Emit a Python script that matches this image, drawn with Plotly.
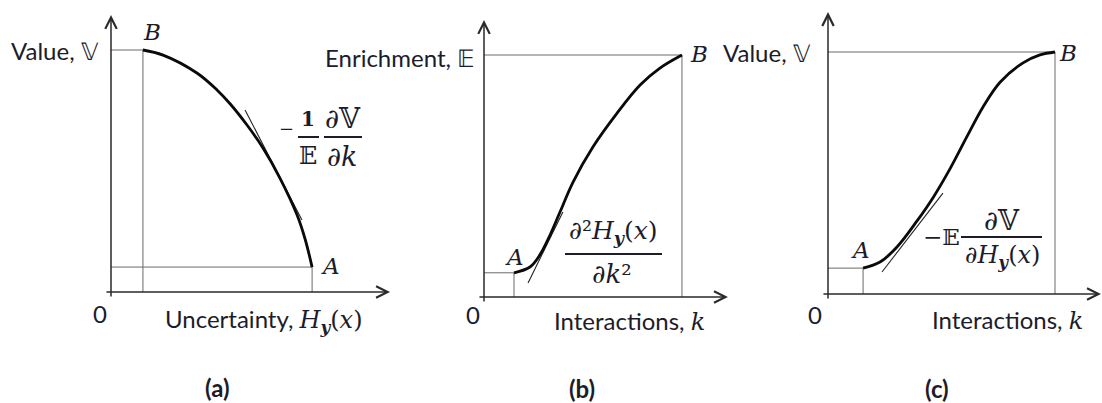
import plotly.graph_objects as go

W, H = 1102, 403
PX = 24.2  # pixels per data unit (same scale in every panel)

# ---- data -----------------------------------------------------------------
# (a) value V against uncertainty H_y(x): from B (top-left) down to A
a_h = [1.32, 2.15, 3.55, 4.38, 4.92, 5.62, 6.28, 6.98, 7.69, 8.02, 8.31]
a_v = [10.0, 9.79, 9.05, 8.35, 7.78, 6.90, 5.95, 4.71, 3.18, 2.19, 1.03]
a_tan_h = [5.54, 7.89]
a_tan_v = [7.52, 2.98]

# (b) enrichment E against interactions k: from A up to B
b_k = [1.24, 1.90, 2.31, 2.73, 3.14, 3.68, 4.50, 5.50, 6.45, 7.27, 8.18]
b_e = [1.00, 1.24, 1.74, 2.56, 3.51, 4.75, 6.20, 7.60, 8.76, 9.46, 10.0]
b_tan_k = [1.82, 3.26]
b_tan_e = [0.58, 3.51]

# (c) value V against interactions k: from A up to B
c_k = [1.45, 2.15, 2.85, 3.68, 4.34, 5.04, 5.74, 6.40, 7.11, 8.06, 8.76, 9.38]
c_v = [1.07, 1.32, 1.94, 3.02, 3.98, 5.17, 6.50, 7.72, 8.75, 9.55, 9.88, 10.0]
c_tan_k = [2.23, 4.75]
c_tan_v = [0.91, 4.17]

curves = [(a_h, a_v, a_tan_h, a_tan_v),
          (b_k, b_e, b_tan_k, b_tan_e),
          (c_k, c_v, c_tan_k, c_tan_v)]

# ---- panel geometry (origin pixel, horizontal extent, axis arrow lengths) --
panels = [
    dict(ox=111, oy=292, left=0, right=400, xend=11.53, yend=11.45),
    dict(ox=484, oy=297, left=400, right=740, xend=10.08, yend=11.45),
    dict(ox=828, oy=294, left=740, right=1102, xend=11.28, yend=11.65),
]

INK = "#1c1c2a"
GUIDE = "#6a6a6a"
SANS = "Lato, Open Sans, sans-serif"
SERIF = "DejaVu Serif, Liberation Serif, serif"

fig = go.Figure()
layout_axes = {}
annotations = []
shapes = []

for i, (p, (xs, ys, tx, ty)) in enumerate(zip(panels, curves), start=1):
    xa = "x" if i == 1 else f"x{i}"
    ya = "y" if i == 1 else f"y{i}"
    layout_axes["xaxis" if i == 1 else f"xaxis{i}"] = dict(
        domain=[p["left"] / W, p["right"] / W],
        range=[(p["left"] - p["ox"]) / PX, (p["right"] - p["ox"]) / PX],
        visible=False, fixedrange=True, anchor=ya)
    layout_axes["yaxis" if i == 1 else f"yaxis{i}"] = dict(
        domain=[0, 1],
        range=[(p["oy"] - H) / PX, p["oy"] / PX],
        visible=False, fixedrange=True, anchor=xa)

    # thin guide lines from the curve end points to both axes
    if ys[0] > ys[-1]:
        top = (xs[0], ys[0]); low = (xs[-1], ys[-1])
    else:
        top = (xs[-1], ys[-1]); low = (xs[0], ys[0])
    for gx, gy in (top, low):
        fig.add_trace(go.Scatter(
            x=[0, gx, gx], y=[gy, gy, 0], mode="lines",
            line=dict(color=GUIDE, width=1), xaxis=xa, yaxis=ya,
            hoverinfo="skip", showlegend=False))

    # tangent line
    fig.add_trace(go.Scatter(
        x=tx, y=ty, mode="lines", line=dict(color="#222222", width=1.1),
        xaxis=xa, yaxis=ya, hoverinfo="skip", showlegend=False))

    # main curve
    fig.add_trace(go.Scatter(
        x=xs, y=ys, mode="lines",
        line=dict(color="#0a0a0a", width=2.8, shape="spline", smoothing=1.0),
        xaxis=xa, yaxis=ya, hoverinfo="skip", showlegend=False))

    # axes with open arrow heads
    for (x0, y0, x1, y1) in ((-0.25, 0, p["xend"], 0), (0, -0.25, 0, p["yend"])):
        annotations.append(dict(
            x=x1, y=y1, ax=x0, ay=y0, xref=xa, yref=ya, axref=xa, ayref=ya,
            text="", showarrow=True, arrowhead=5, arrowsize=1.5,
            arrowwidth=1.5, arrowcolor="#2a2a2a", standoff=0, startstandoff=0))


def label(px, py, text, size=24, font=SANS, xanchor="center", bold=False):
    if bold:
        text = f"<b>{text}</b>"
    annotations.append(dict(
        x=px / W, y=1 - py / H, xref="paper", yref="paper", text=text,
        showarrow=False, xanchor=xanchor, yanchor="middle",
        font=dict(family=font, size=size, color=INK)))


def bar(x0, x1, py):
    shapes.append(dict(type="line", xref="paper", yref="paper",
                       x0=x0 / W, x1=x1 / W, y0=1 - py / H, y1=1 - py / H,
                       line=dict(color=INK, width=2)))


HY = "<i>H</i><sub><b><i>y</i></b></sub>(<i>x</i>)"
SERIF_SPAN = '<span style="font-family:DejaVu Serif">%s</span>'

# panel (a)
label(101, 50, "Value, 𝕍", xanchor="right")
label(152, 32, "<i>B</i>", size=23, font=SERIF)
label(330, 266, "<i>A</i>", size=23, font=SERIF)
label(100, 313, "0")
label(163, 320, "Uncertainty, " + SERIF_SPAN % HY, xanchor="left")
label(286, 128, "−", size=18, font=SERIF)
label(308, 119, "1", size=20, font=SERIF, bold=True)
bar(298, 319, 137)
label(308, 156, "𝔼", size=24, font=SERIF)
label(343, 118, "∂𝕍", size=27, font=SERIF)
bar(324, 362, 137)
label(342, 156, "∂<i>k</i>", size=27, font=SERIF)
label(217, 387, "(a)", bold=True)

# panel (b)
label(477, 57, "Enrichment, 𝔼", xanchor="right")
label(699, 54, "<i>B</i>", size=23, font=SERIF)
label(514, 257, "<i>A</i>", size=23, font=SERIF)
label(473, 314, "0")
label(552, 321, "Interactions, " + SERIF_SPAN % "<i>k</i>", xanchor="left")
label(613, 232, "∂²" + HY, size=25, font=SERIF)
bar(565, 662, 254)
label(612, 274, "∂<i>k</i>²", size=26, font=SERIF)
label(582, 388, "(b)", bold=True)

# panel (c)
label(1068, 53, "<i>B</i>", size=23, font=SERIF)
label(813, 52, "Value, 𝕍", xanchor="right")
label(860, 250, "<i>A</i>", size=23, font=SERIF)
label(815, 314, "0")
label(930, 320, "Interactions, " + SERIF_SPAN % "<i>k</i>", xanchor="left")
label(941, 237, "−𝔼", size=23, font=SERIF)
label(1002, 220, "∂𝕍", size=27, font=SERIF)
bar(961, 1042, 237)
label(1002, 256, "∂" + HY, size=24, font=SERIF)
label(937, 388, "(c)", bold=True)

fig.update_layout(
    width=W, height=H, margin=dict(l=0, r=0, t=0, b=0),
    paper_bgcolor="white", plot_bgcolor="rgba(0,0,0,0)",
    showlegend=False, annotations=annotations, shapes=shapes,
    **layout_axes)

fig.write_html("out.html", config={"displayModeBar": False})
